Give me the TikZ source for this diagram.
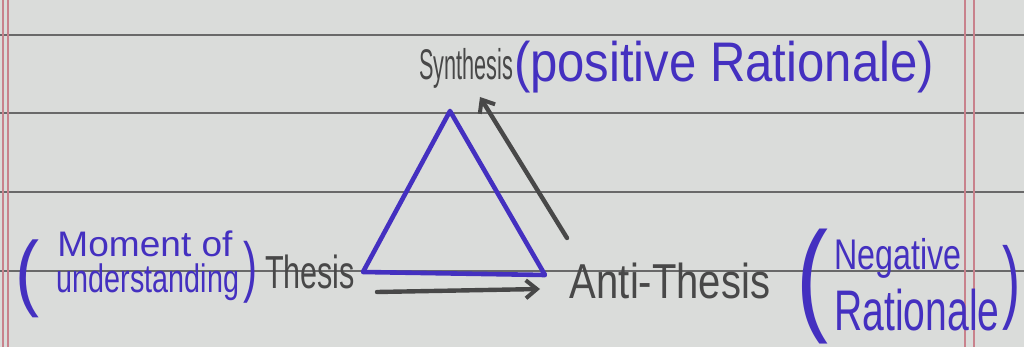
\documentclass[tikz,border=0pt]{standalone}
\usepackage{fontspec}
\setmainfont{Liberation Sans}
\usepackage{graphicx}
\usetikzlibrary{arrows.meta}
\definecolor{paper}{RGB}{218,220,218}
\definecolor{ruling}{RGB}{105,105,105}
\definecolor{margin}{RGB}{200,130,140}
\definecolor{ink}{RGB}{68,48,192}
\definecolor{pencil}{RGB}{72,72,72}
\newcommand\hwfit[3]{\resizebox*{#1pt}{#2pt}{#3}}
\begin{document}
\begin{tikzpicture}[x=1pt,y=-1pt,
  bluetext/.style={inner sep=0pt, text=ink},
  graytext/.style={inner sep=0pt, text=pencil},
  rulingline/.style={ruling, line width=1.4pt},
  marginline/.style={margin, line width=1.2pt},
  bluepen/.style={ink, line width=4.6pt, line join=round},
  graypen/.style={pencil, line width=4.4pt, line cap=round, -{Straight Barb[length=11pt,width=18pt,line width=4pt]}}]
\fill[paper] (0,0) rectangle (1024,347);
\useasboundingbox (0,0) rectangle (1024,347);
% ruled lines
\foreach \yy in {35,113,192,271} \draw[rulingline] (0,\yy) -- (1024,\yy);
% margin lines
\foreach \xx in {3,8,965,974} \draw[marginline] (\xx,0) -- (\xx,347);
% labels
\node[graytext] (syn) at (466,68) {\hwfit{94}{40}{Synthesis}};
\node[bluetext] (synr) at (724,67) {\hwfit{420}{52}{(positive Rationale)}};
\node[bluetext] (lpar) at (28,279) {\hwfit{24}{78}{(}};
\node[bluetext] (mom) at (145,244) {\hwfit{175}{26}{Moment of}};
\node[bluetext] (und) at (148,282) {\hwfit{182}{37}{understanding}};
\node[bluetext] (rpar1) at (250,272) {\hwfit{14}{62}{)}};
\node[graytext] (the) at (310,272) {\hwfit{90}{34}{Thesis}};
\node[graytext] (anti) at (670,281) {\hwfit{200}{36}{Anti-Thesis}};
\node[bluetext] (lpar2) at (812,287) {\hwfit{32}{115}{(}};
\node[bluetext] (neg) at (898,258) {\hwfit{127}{40}{Negative}};
\node[bluetext] (rat) at (917,310) {\hwfit{165}{42}{Rationale}};
\node[bluetext] (rpar2) at (1011,288) {\hwfit{18}{85}{)}};
% triangle
\coordinate (A) at (450,111);
\coordinate (B) at (363,272);
\coordinate (C) at (545,275);
\draw[bluepen] (B) -- (A) -- (C) -- cycle;
% arrows
\coordinate (s1) at (567,238);
\coordinate (e1) at (480,97);
\draw[graypen] (s1) -- (e1);
\coordinate (s2) at (377,292);
\coordinate (e2) at (540,289);
\draw[graypen] (s2) -- (e2);
\end{tikzpicture}
\end{document}
